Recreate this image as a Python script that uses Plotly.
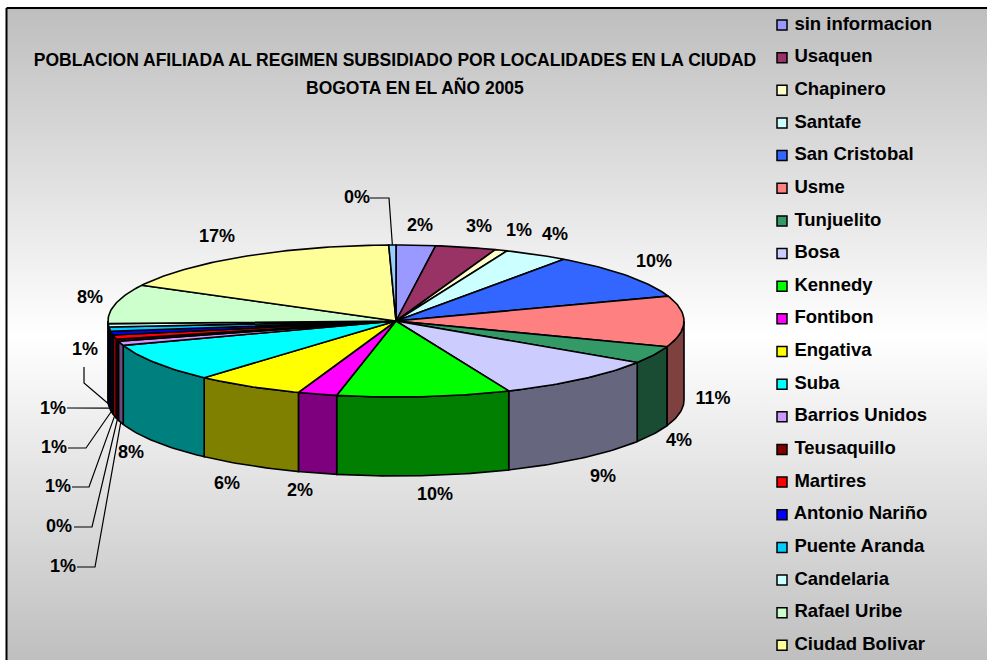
import numpy as np
import plotly.graph_objects as go

TITLE_LINES = [
    "POBLACION AFILIADA AL REGIMEN SUBSIDIADO POR LOCALIDADES EN LA CIUDAD",
    "BOGOTA EN EL AÑO 2005",
]

localidades = [
    "sin informacion", "Usaquen", "Chapinero", "Santafe", "San Cristobal", "Usme",
    "Tunjuelito", "Bosa", "Kennedy", "Fontibon", "Engativa", "Suba", "Barrios Unidos",
    "Teusaquillo", "Martires", "Antonio Nariño", "Puente Aranda", "Candelaria",
    "Rafael Uribe", "Ciudad Bolivar",
]
# percent of the pie, read from the slice edges. the last one is the thin slice
# at 12 o'clock whose legend row is cut off in the original
shares = [2.2, 3.4, 0.7, 3.6, 9.8, 10.8, 3.7, 9.4, 9.7, 2.2, 6.1, 8.2,
          0.9, 0.45, 0.9, 0.8, 0.9, 0.7, 8.35, 16.8, 0.4]
colors = ["#9999ff", "#993366", "#ffffcc", "#ccffff", "#3366ff", "#ff8080",
          "#339966", "#ccccff", "#00ff00", "#ff00ff", "#ffff00", "#00ffff",
          "#cc99ff", "#800000", "#ff0000", "#0000ff", "#00ccff", "#ccffff",
          "#ccffcc", "#ffff99", "#99ccff"]

# pie geometry in page pixels
CX, CY, RX, RY, DEPTH = 396, 321, 288, 76, 79

label_x = [420, 479, 519, 555, 654, 713, 679, 603, 435, 300, 227, 131,
           63, 59, 58, 54, 53, 85, 90, 217, 357]
label_y = [226, 227, 231, 235, 262, 399, 441, 477, 495, 491, 484, 453,
           567, 527, 487, 448, 409, 350, 298, 237, 198]
# leader lines: slice index -> points from the label towards the elbow
leaders = {
    12: [(77, 567), (95, 567)],
    13: [(74, 527), (92, 527)],
    14: [(72, 487), (89, 487)],
    15: [(68, 448), (86, 448)],
    16: [(67, 408)],
    17: [(84, 367), (84, 383)],
    20: [(370, 198), (389, 198)],
}


def darker(hex_color):
    r, g, b = [int(hex_color[i:i + 2], 16) // 2 for i in (1, 3, 5)]
    return f"rgb({r},{g},{b})"


def arc(a0, a1):
    # clockwise from 12 o'clock, angles in degrees
    t = np.radians(np.linspace(a0, a1, max(int(abs(a1 - a0)) + 2, 3)))
    return CX + RX * np.sin(t), CY - RY * np.cos(t)


def poly(fig, x, y, color, width=1.6):
    fig.add_trace(go.Scatter(
        x=x, y=y, mode="lines", fill="toself", fillcolor=color,
        line={"color": "black", "width": width}, hoverinfo="skip", showlegend=False,
    ))


fig = go.Figure()

# background panel, grey -> white -> grey
fig.add_trace(go.Scatter(
    x=[6.5, 1000, 1000, 6.5, 6.5], y=[8, 8, 664, 664, 8], mode="lines", fill="toself",
    fillgradient={"type": "vertical", "colorscale": [[0, "#bebebe"], [0.5, "#ffffff"], [1, "#bebebe"]]},
    line={"color": "black", "width": 2}, hoverinfo="skip", showlegend=False,
))

edges = np.concatenate([[0], np.cumsum(shares)]) / sum(shares) * 360

# outer wall, only the front half can be seen
for i, c in enumerate(colors):
    a0, a1 = max(edges[i], 90), min(edges[i + 1], 270)
    if a1 <= a0:
        continue
    x, y = arc(a0, a1)
    poly(fig, np.r_[x, x[::-1], x[0]], np.r_[y, y[::-1] + DEPTH, y[0]], darker(c))

# top face
for i, c in enumerate(colors):
    x, y = arc(edges[i], edges[i + 1])
    poly(fig, np.r_[CX, x, CX], np.r_[CY, y, CY], c)

# leader lines end on the slice they belong to
for i, pts in leaders.items():
    x, y = arc(edges[i], edges[i + 1])
    mid = len(x) // 2
    drop = DEPTH if 90 < (edges[i] + edges[i + 1]) / 2 < 270 else 0
    xs = [p[0] for p in pts] + [x[mid]]
    ys = [p[1] for p in pts] + [y[mid] + drop]
    fig.add_trace(go.Scatter(x=xs, y=ys, mode="lines", line={"color": "black", "width": 1.2},
                             hoverinfo="skip", showlegend=False))

# percent labels
fig.add_trace(go.Scatter(
    x=label_x, y=label_y, mode="text",
    text=[f"{round(s / sum(shares) * 100)}%" for s in shares],
    textposition="middle center",
    textfont={"family": "Liberation Sans", "size": 18, "color": "black", "weight": "bold"},
    hoverinfo="skip", showlegend=False,
))

# legend column, drawn by hand since plotly can't space rows this far apart
fig.add_trace(go.Scatter(
    x=[782] * len(localidades), y=[25 + i * 32.65 for i in range(len(localidades))],
    mode="markers+text", text=[" " + n for n in localidades], textposition="middle right",
    marker={"symbol": "square", "size": 10, "color": colors[:len(localidades)],
            "line": {"color": "black", "width": 1.5}},
    textfont={"family": "Liberation Sans", "size": 18.5, "color": "black", "weight": "bold"},
    hoverinfo="skip", showlegend=False,
))

fig.update_layout(
    width=987, height=660, margin={"l": 0, "r": 0, "t": 0, "b": 0},
    paper_bgcolor="white", plot_bgcolor="white", showlegend=False,
    xaxis={"range": [0, 987], "visible": False, "fixedrange": True},
    yaxis={"range": [660, 0], "visible": False, "fixedrange": True},
    title={"text": TITLE_LINES[0], "x": 395 / 987, "xanchor": "center",
           "y": 1 - 60 / 660, "yanchor": "middle",
           "font": {"family": "Liberation Sans", "size": 17.5, "color": "black", "weight": "bold"}},
)
fig.add_annotation(text=TITLE_LINES[1], x=415, y=87, xref="x", yref="y", showarrow=False,
                   font={"family": "Liberation Sans", "size": 17.5, "color": "black", "weight": "bold"})

# the page's default 8px body margin would shift the figure off the window
fig.write_html("out.html", config={"displayModeBar": False},
               post_script="document.body.style.margin = '0';")
